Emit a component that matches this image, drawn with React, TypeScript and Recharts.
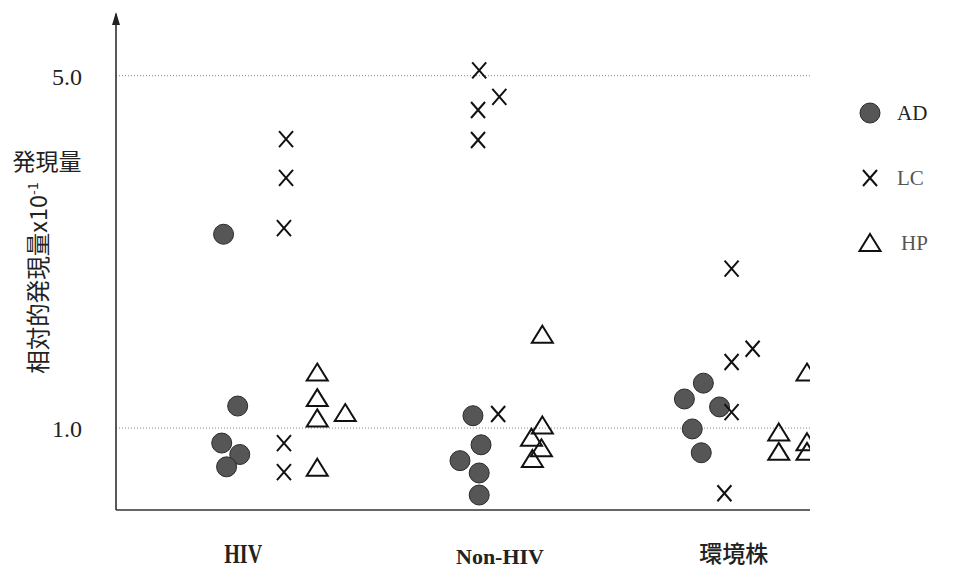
import { ScatterChart, Scatter, XAxis, YAxis, CartesianGrid, ReferenceDot } from 'recharts';

const groups = ['HIV', 'Non-HIV', '環境株'];
const groupTickAt = [0.55, 1.66, 2.67];
const yTicks = [1.0, 5.0];

// x: position inside the 0-3 group band, y: 相対的発現量 (x10^-1)
const adPoints = [
  { x: 0.465, y: 3.2 }, { x: 0.526, y: 1.25 }, { x: 0.457, y: 0.83 }, { x: 0.535, y: 0.7 }, { x: 0.478, y: 0.56 },
  { x: 1.543, y: 1.14 }, { x: 1.578, y: 0.81 }, { x: 1.487, y: 0.63 }, { x: 1.57, y: 0.49 }, { x: 1.57, y: 0.24 },
  { x: 2.539, y: 1.51 }, { x: 2.457, y: 1.33 }, { x: 2.609, y: 1.24 }, { x: 2.491, y: 0.99 }, { x: 2.53, y: 0.72 },
];

const lcPoints = [
  { x: 0.735, y: 4.28 }, { x: 0.735, y: 3.84 }, { x: 0.726, y: 3.27 }, { x: 0.726, y: 0.83 }, { x: 0.726, y: 0.5 },
  { x: 1.57, y: 5.06 }, { x: 1.657, y: 4.76 }, { x: 1.565, y: 4.61 }, { x: 1.565, y: 4.27 }, { x: 1.652, y: 1.16 },
  { x: 2.661, y: 2.81 }, { x: 2.752, y: 1.9 }, { x: 2.661, y: 1.75 }, { x: 2.661, y: 1.18 }, { x: 2.63, y: 0.26 },
];

const hpPoints = [
  { x: 0.87, y: 1.63 }, { x: 0.87, y: 1.34 }, { x: 0.87, y: 1.11 }, { x: 0.991, y: 1.17 }, { x: 0.87, y: 0.55 },
  { x: 1.843, y: 2.06 }, { x: 1.843, y: 1.03 }, { x: 1.796, y: 0.89 }, { x: 1.839, y: 0.77 }, { x: 1.8, y: 0.65 },
  { x: 2.987, y: 1.63 }, { x: 2.865, y: 0.95 }, { x: 2.865, y: 0.73 }, { x: 2.987, y: 0.84 }, { x: 2.987, y: 0.73 },
];

const yMin = 0.07;
const yMax = 5.7;

const SERIF = '"Liberation Serif", "Times New Roman", serif';
const CJK = '"Noto Sans CJK JP", "Noto Sans", sans-serif';

const Dot = ({ cx, cy }: any) => (
  <circle cx={cx} cy={cy} r={10} fill="#565656" stroke="#2a2a2a" strokeWidth={1} />
);

const Cross = ({ cx, cy }: any) => (
  <path
    d={`M${cx - 7},${cy - 8}L${cx + 7},${cy + 8}M${cx + 7},${cy - 8}L${cx - 7},${cy + 8}`}
    stroke="#111"
    strokeWidth={2}
    fill="none"
  />
);

const Tri = ({ cx, cy }: any) => (
  <path
    d={`M${cx},${cy - 9}L${cx + 10.5},${cy + 8}L${cx - 10.5},${cy + 8}Z`}
    stroke="#111"
    strokeWidth={2}
    fill="none"
  />
);

const Arrow = ({ cx, cy }: any) => (
  <path d={`M${cx},${cy - 2}L${cx + 4},${cy + 11}L${cx - 4},${cy + 11}Z`} fill="#222" />
);

const GroupTick = ({ x, y, index }: any) => {
  const isCjk = index === 2;
  if (index === 0) {
    // condensed, tall serif like the scan
    return (
      <text
        x={x}
        y={y + 45}
        textAnchor="middle"
        fontFamily={SERIF}
        fontWeight={700}
        fontSize={28}
        textLength={38}
        lengthAdjust="spacingAndGlyphs"
        fill="#222"
      >
        {groups[index]}
      </text>
    );
  }
  return (
    <text
      x={x}
      y={y + (index === 1 ? 46 : 44)}
      textAnchor="middle"
      fontFamily={isCjk ? CJK : SERIF}
      fontWeight={isCjk ? 500 : 700}
      fontSize={isCjk ? 23 : 22}
      fill="#222"
    >
      {groups[index]}
    </text>
  );
};

const ValueTick = ({ x, y, payload }: any) => (
  <text x={x - 26} y={y + 9} textAnchor="end" fontFamily={SERIF} fontSize={24} fill="#222">
    {payload.value.toFixed(1)}
  </text>
);

const AxisTitle = () => (
  <g fill="#222" fontFamily={CJK}>
    <text x={47} y={170} textAnchor="middle" fontSize={23}>発現量</text>
    <text transform="translate(47,278) rotate(-90)" textAnchor="middle" fontSize={23.5}>
      相対的発現量x10<tspan fontSize={14} dy={-9}>-1</tspan>
    </text>
  </g>
);

const legendItems = [
  { name: 'AD', shape: Dot, color: '#222' },
  { name: 'LC', shape: Cross, color: '#555' },
  { name: 'HP', shape: Tri, color: '#555' },
];

const LegendBox = () => (
  <div style={{ position: 'absolute', left: 855, top: 98, width: 116, height: 200 }}>
    {legendItems.map((item, i) => {
      const Shape = item.shape;
      return (
        <div key={item.name} style={{ position: 'absolute', left: 0, top: i * 65, display: 'flex', alignItems: 'center' }}>
          <svg width={30} height={30}>
            <Shape cx={15} cy={15} />
          </svg>
          <span style={{ marginLeft: i === 2 ? 16 : 12, fontFamily: SERIF, fontSize: 21, color: item.color }}>{item.name}</span>
        </div>
      );
    })}
  </div>
);

export default function App() {
  return (
    <div style={{ position: 'absolute', left: 0, top: 0, width: 976, height: 582, background: '#fff' }}>
      <ScatterChart width={976} height={582} margin={{ top: 14, right: 166, bottom: 0, left: 0 }}>
        <CartesianGrid
          vertical={false}
          horizontalValues={yTicks}
          stroke="#888"
          strokeDasharray="1 2"
        />
        <XAxis
          type="number"
          dataKey="x"
          domain={[0, 3]}
          ticks={groupTickAt}
          tick={<GroupTick />}
          tickLine={false}
          axisLine={{ stroke: '#333', strokeWidth: 1.5 }}
          allowDataOverflow
          height={72}
        />
        <YAxis
          type="number"
          dataKey="y"
          domain={[yMin, yMax]}
          ticks={yTicks}
          tick={<ValueTick />}
          tickLine={false}
          axisLine={{ stroke: '#222', strokeWidth: 1.5 }}
          allowDataOverflow
          width={116}
          label={<AxisTitle />}
        />
        <ReferenceDot x={0} y={yMax} r={0} shape={<Arrow />} ifOverflow="visible" />
        <Scatter name="AD" data={adPoints} shape={<Dot />} isAnimationActive={false} />
        <Scatter name="LC" data={lcPoints} shape={<Cross />} isAnimationActive={false} />
        <Scatter name="HP" data={hpPoints} shape={<Tri />} isAnimationActive={false} />
      </ScatterChart>
      <LegendBox />
    </div>
  );
}
